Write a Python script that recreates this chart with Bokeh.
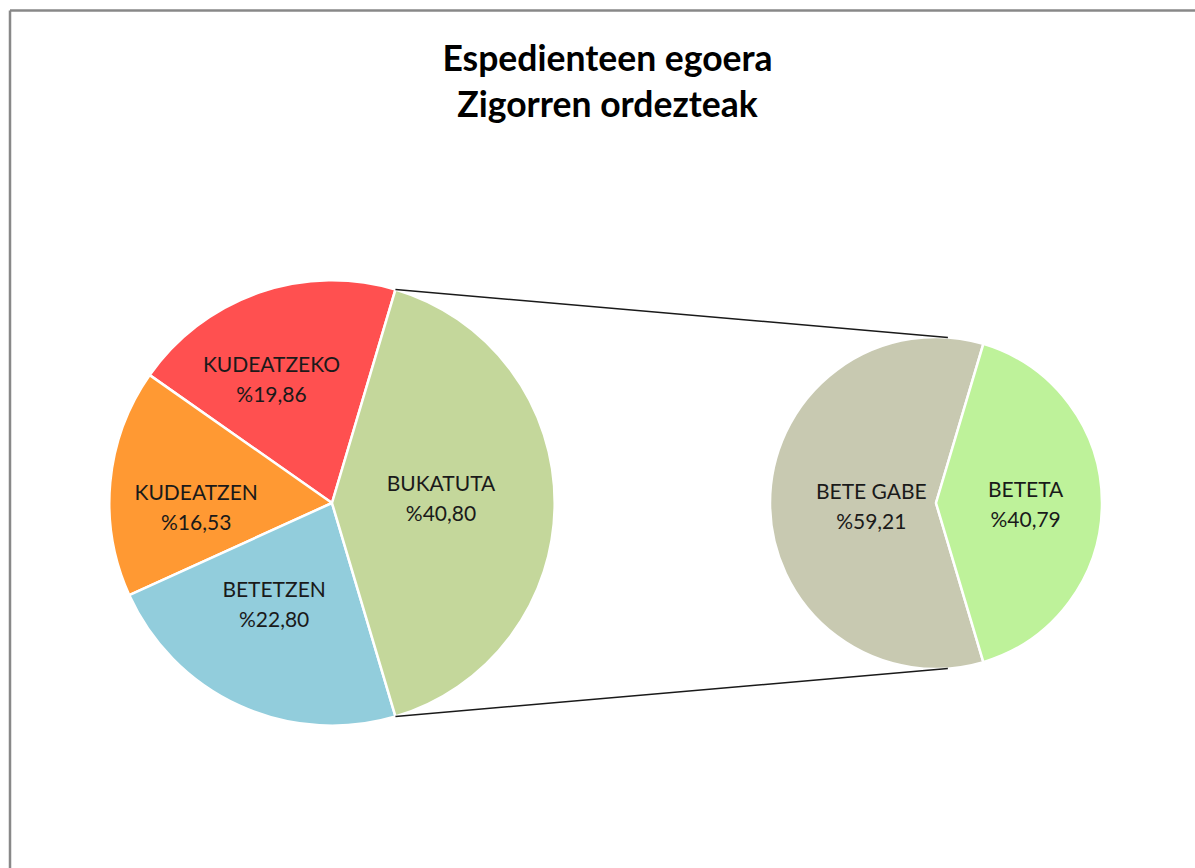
import math
from bokeh.plotting import figure
from bokeh.models import Range1d
from bokeh.core.properties import value
from bokeh.embed import file_html
from bokeh.resources import INLINE

# ---- data ----
title_lines = ["Espedienteen egoera", "Zigorren ordezteak"]
main_labels = ["KUDEATZEKO", "KUDEATZEN", "BETETZEN", "BUKATUTA"]
main_values = [19.86, 16.53, 22.80, 40.80]
main_colors = ["#FF5050", "#FF9933", "#92CDDC", "#C4D79B"]
sub_labels = ["BETE GABE", "BETETA"]
sub_values = [59.21, 40.79]
sub_colors = ["#C8C9B1", "#BEF29A"]

# ---- layout (reference pixel space, page margin removed) ----
W, H = 1195, 868
def X(px):
    return px
def Y(py):
    return H - py

main_c = (331.5, 502.5); main_r = 222.7
sub_c = (935.5, 502.5); sub_r = 166.0
# label anchor (angle deg, radius fraction)
main_lab_pos = [(116, 0.62), (181.5, 0.61), (240, 0.52), (3, 0.49)]
sub_lab_pos = [(182, 0.39), (0, 0.54)]
sub_conn_angle = 85.9
label_font = value("Lato")
label_size = "21px"
line_gap = 15.0

p = figure(width=W, height=H, output_backend="svg", toolbar_location=None,
           x_range=Range1d(0, W), y_range=Range1d(0, H), min_border=0,
           background_fill_color="white", border_fill_color="white")
p.axis.visible = False
p.grid.visible = False
p.outline_line_color = None

def fmt(v):
    return "%" + f"{v:.2f}".replace(".", ",")

def draw_pie(center, r, labels, vals, colors, lab_pos):
    total = sum(vals)
    # last slice centred on angle 0, others follow anticlockwise
    start = 360 * vals[-1] / total / 2
    angles = []
    a = start
    for i in range(len(vals) - 1):
        span = 360 * vals[i] / total
        angles.append((a, a + span))
        a += span
    angles.append((-start, start))
    xs, ys, sa, ea = [], [], [], []
    for (s, e) in angles:
        xs.append(X(center[0])); ys.append(Y(center[1]))
        sa.append(math.radians(s)); ea.append(math.radians(e))
    p.wedge(x=xs, y=ys, radius=r, start_angle=sa, end_angle=ea,
            fill_color=colors, line_color="white", line_width=2.5,
            direction="anticlock")
    for lab, v, (ang, fr) in zip(labels, vals, lab_pos):
        cx = X(center[0]) + fr * r * math.cos(math.radians(ang))
        cy = Y(center[1]) + fr * r * math.sin(math.radians(ang))
        p.text(x=[cx], y=[cy + line_gap], text=[lab], text_align="center",
               text_baseline="middle", text_font=label_font,
               text_font_size=label_size, text_color="#1a1a1a")
        p.text(x=[cx], y=[cy - line_gap], text=[fmt(v)], text_align="center",
               text_baseline="middle", text_font=label_font,
               text_font_size=label_size, text_color="#1a1a1a")
    return start

half_main = draw_pie(main_c, main_r, main_labels, main_values, main_colors, main_lab_pos)
draw_pie(sub_c, sub_r, sub_labels, sub_values, sub_colors, sub_lab_pos)

# connector lines
for sgn in (1, -1):
    a1 = math.radians(sgn * half_main)
    a2 = math.radians(sgn * sub_conn_angle)
    x0 = X(main_c[0]) + main_r * math.cos(a1)
    y0 = Y(main_c[1]) + main_r * math.sin(a1)
    x1 = X(sub_c[0]) + sub_r * math.cos(a2)
    y1 = Y(sub_c[1]) + sub_r * math.sin(a2)
    p.line([x0, x1], [y0, y1], line_color="#1a1a1a", line_width=1.5)

# chart border (left and top)
p.line([X(9.5), X(9.5)], [Y(868), Y(10)], line_color="#888888", line_width=2.5)
p.line([X(9.5), X(1195)], [Y(10), Y(10)], line_color="#888888", line_width=2.5)

# title
for i, t in enumerate(title_lines):
    p.text(x=[X(607)], y=[Y(57 + 46 * i)], text=[t], text_align="center",
           text_baseline="middle", text_font=value("Lato"),
           text_font_size="35.5px", text_font_style="bold", text_color="black")

html = file_html(p, INLINE)
html = html.replace("</head>",
                    "<style>html,body{margin:0;padding:0;overflow:hidden;}</style></head>", 1)
open("out.html", "w").write(html)
